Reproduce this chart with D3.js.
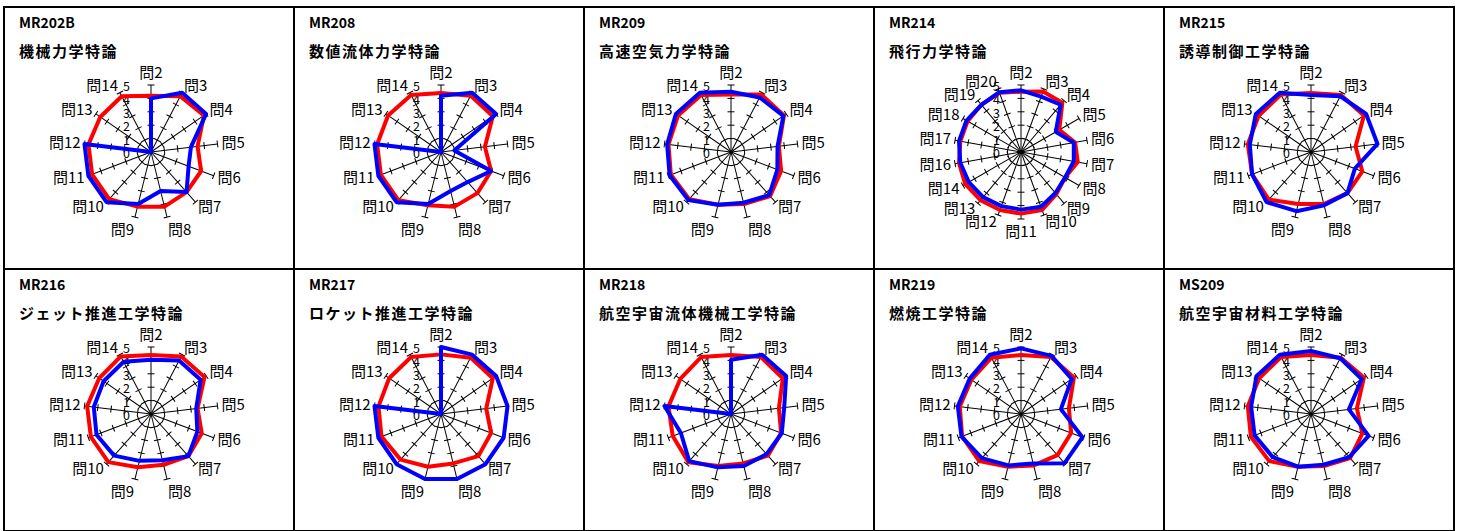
<!DOCTYPE html>
<html>
<head>
<meta charset="utf-8">
<script src="https://cdn.jsdelivr.net/npm/d3@7"></script>
<style>
body { margin: 0; background: #fff; }
text { font-family: "Noto Sans CJK JP", sans-serif; }
</style>
</head>
<body>
<script>
(function(){
'use strict';

// --- data ---
var codes = ['MR202B', 'MR208', 'MR209', 'MR214', 'MR215',
             'MR216', 'MR217', 'MR218', 'MR219', 'MS209'];
var titles = ['機械力学特論', '数値流体力学特論', '高速空気力学特論', '飛行力学特論', '誘導制御工学特論',
              'ジェット推進工学特論', 'ロケット推進工学特論', '航空宇宙流体機械工学特論', '燃焼工学特論', '航空宇宙材料工学特論'];
var axes13 = ['問2', '問3', '問4', '問5', '問6', '問7', '問8', '問9', '問10', '問11', '問12', '問13', '問14'];
var axes18 = ['問2', '問3', '問4', '問5', '問6', '問7', '問8', '問9', '問10', '問11', '問12', '問13', '問14',
              '問16', '問17', '問18', '問19', '問20'];
var ticks = [0, 1, 2, 3, 4, 5];

var redVals = [
	[4.2, 4.7, 4.8, 3.5, 4.0, 4.0, 4.2, 4.2, 4.7, 4.7, 4.7, 4.6, 4.7],
	[4.4, 4.75, 4.7, 3.3, 4.0, 4.1, 4.2, 4.1, 4.8, 4.8, 4.8, 4.8, 4.8],
	[4.3, 4.85, 4.8, 3.6, 4.0, 4.4, 4.0, 4.05, 4.7, 4.8, 4.7, 4.8, 4.8],
	[4.5, 4.8, 4.8, 3.3, 4.1, 4.3, 3.8, 4.1, 4.6, 4.6, 4.6, 4.7, 4.8, 4.7, 4.6, 4.6, 4.6, 4.7],
	[4.4, 4.8, 4.8, 3.35, 4.1, 4.1, 4.0, 4.0, 4.75, 4.7, 4.75, 4.75, 4.85],
	[4.4, 4.85, 4.85, 3.5, 4.05, 4.2, 3.9, 4.1, 4.8, 4.8, 4.8, 4.7, 4.85],
	[4.45, 4.75, 4.7, 3.4, 4.0, 4.2, 3.8, 4.05, 4.55, 4.75, 4.7, 4.7, 4.8],
	[4.4, 4.8, 4.7, 3.6, 4.0, 4.15, 3.8, 4.0, 4.8, 4.65, 4.7, 4.6, 4.8],
	[4.4, 4.8, 4.8, 3.6, 4.0, 4.1, 3.95, 4.05, 4.7, 4.7, 4.6, 4.5, 4.75],
	[4.4, 4.75, 4.8, 3.45, 4.1, 4.4, 4.0, 4.05, 4.7, 4.8, 4.75, 4.7, 4.8]
];
var blueVals = [
	[4, 5, 5, 3, 3, 4, 3, 4, 5, 5, 5, 0, 0],
	[4.2, 5, 5, 1, 4, 3, 3, 4, 5, 5, 5, 0, 0],
	[4.5, 4.6, 4.75, 3.5, 3.7, 4.3, 3.9, 4.05, 4.8, 4.9, 4.8, 5.0, 5.0],
	[4.6, 4.4, 4.6, 3.0, 4.0, 4.0, 3.8, 4.0, 4.35, 4.3, 4.3, 4.4, 4.5, 4.6, 4.7, 4.7, 4.6, 4.75],
	[4.25, 4.7, 5.0, 5.0, 3.5, 4.1, 4.1, 4.55, 5.0, 4.7, 4.6, 5.0, 5.0],
	[4.05, 4.5, 4.5, 3.4, 3.7, 4.2, 3.55, 3.6, 4.15, 4.35, 4.3, 4.3, 4.4],
	[5, 5, 5, 5, 5, 5, 5, 5, 5, 5, 5, 0, 0],
	[4.05, 5, 5, 4, 4.05, 4, 4, 4.1, 4.7, 4.0, 5, 0, 0],
	[4.9, 4.9, 4.6, 3.0, 4.9, 4.9, 3.8, 3.95, 4.4, 4.75, 4.75, 4.65, 5.0],
	[4.7, 4.7, 4.6, 2.85, 4.6, 4.3, 3.9, 4.05, 4.3, 4.5, 4.5, 4.95, 5.0]
];

// --- layout ---
var width = 1463, height = 531;
var panelW = 290, panelH = 262;
var left0 = 4, top0 = 7;
var R = 67;

var svg = d3.select('body').append('svg')
	.attr('width', width)
	.attr('height', height);

svg.append('rect').attr('width', width).attr('height', height).attr('fill', '#fff');

var rScale = d3.scaleLinear().domain([0, 5]).range([0, R]);

function drawPanel(k){
	var col = k % 5, row = Math.floor(k / 5);
	var px = left0 + col * panelW, py = top0 + row * panelH;
	var axes = axes13;
	if (redVals[k].length === 18) axes = axes18;
	var n = axes.length;
	var step = 2 * Math.PI / n;

	var g = svg.append('g').attr('transform', 'translate(' + px + ',' + py + ')');

	g.append('rect')
		.attr('width', panelW).attr('height', panelH)
		.attr('fill', 'none').attr('stroke', '#000').attr('stroke-width', 2);

	g.append('text').attr('x', 15).attr('y', 21)
		.attr('font-family', '"Liberation Sans", Arial, sans-serif')
		.attr('font-weight', 'bold').attr('font-size', 14)
		.text(codes[k]);

	g.append('text').attr('x', 15).attr('y', 50)
		.attr('font-weight', 'bold').attr('font-size', 15)
		.attr('letter-spacing', 1.5)
		.text(titles[k]);

	var c = g.append('g').attr('transform', 'translate(147,145)');

	// spokes with tick marks
	var spoke = c.selectAll('g.spoke').data(axes).enter().append('g')
		.attr('class', 'spoke')
		.attr('transform', function(d, i){ return 'rotate(' + (i * 360 / n) + ')'; });

	spoke.append('line')
		.attr('x1', 0).attr('y1', 0).attr('x2', 0).attr('y2', -rScale(5))
		.attr('stroke', '#000').attr('stroke-width', 1);

	spoke.selectAll('line.tick').data(ticks.slice(1)).enter().append('line')
		.attr('class', 'tick')
		.attr('x1', -3.5).attr('x2', 3.5)
		.attr('y1', function(v){ return -rScale(v); })
		.attr('y2', function(v){ return -rScale(v); })
		.attr('stroke', '#000').attr('stroke-width', 1);

	// value labels
	c.selectAll('text.val').data(ticks).enter().append('text')
		.attr('class', 'val')
		.attr('x', -21)
		.attr('y', function(v){ return -rScale(v) + 6; })
		.attr('text-anchor', 'end')
		.attr('font-family', '"Liberation Sans", Arial, sans-serif')
		.attr('font-size', 12.5)
		.text(function(v){ return v; });

	// axis labels
	c.selectAll('text.ax').data(axes).enter().append('text')
		.attr('class', 'ax')
		.attr('font-size', 15)
		.each(function(d, i){
			var a = i * step;
			var s = Math.sin(a), co = Math.cos(a);
			var lr = R + 4;
			var x = lr * s, y = -lr * co;
			var anchor = 'middle';
			if (s > 0.05) anchor = 'start';
			if (s < -0.05) anchor = 'end';
			var dy;
			if (co > 0.97) dy = -3;
			else if (co < -0.97) dy = 14;
			else dy = 5 - co * 3;
			d3.select(this)
				.attr('x', x).attr('y', y + dy)
				.attr('text-anchor', anchor)
				.text(d);
		});

	var line = d3.lineRadial()
		.angle(function(d, i){ return i * step; })
		.radius(function(d){ return rScale(d); })
		.curve(d3.curveLinearClosed);

	c.append('path').datum(redVals[k])
		.attr('d', line)
		.attr('fill', 'none').attr('stroke', '#ff0000')
		.attr('stroke-width', 4).attr('stroke-linejoin', 'round');

	c.append('path').datum(blueVals[k])
		.attr('d', line)
		.attr('fill', 'none').attr('stroke', '#0000ff')
		.attr('stroke-width', 4).attr('stroke-linejoin', 'round');
}

for (var k = 0; k < codes.length; k++){
	drawPanel(k);
}

})();
</script>
</body>
</html>
